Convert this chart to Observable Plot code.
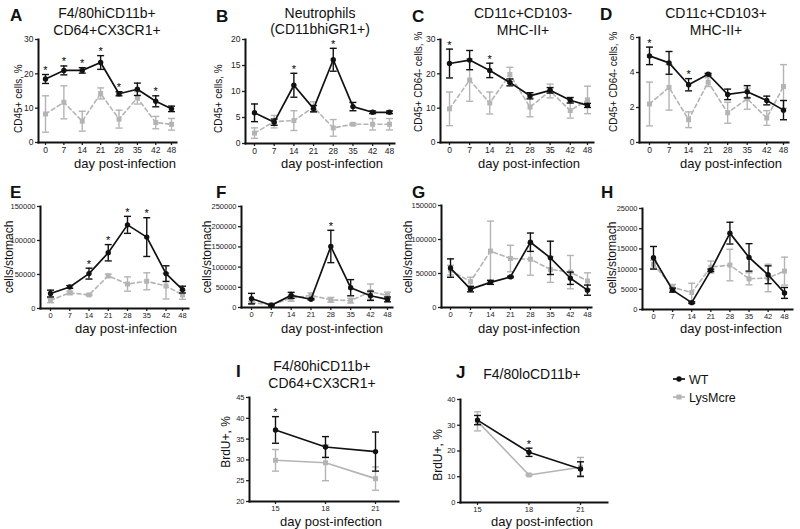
<!DOCTYPE html>
<html><head><meta charset="utf-8">
<script src="https://cdn.jsdelivr.net/npm/d3@7"></script>
<script src="https://cdn.jsdelivr.net/npm/@observablehq/plot@0.6"></script>
<style>
body{margin:0;background:#fff;}
#fig{position:relative;width:800px;height:529px;overflow:hidden;font-family:"Liberation Sans",Arial,sans-serif;}
#fig svg{position:absolute;}
</style></head><body><div id="fig"></div>
<script>
// ---------- DATA ----------
const series = ["WT", "LysMcre"];
const days = [0, 7, 14, 21, 28, 35, 42, 48];
const daysBrdU = [15, 18, 21];

// A: F4/80hiCD11b+ CD64+CX3CR1+ (CD45+ cells, %)
const aWT = [18.5, 21, 21, 23.3, 14.2, 15.5, 12, 9.8];
const aWTerr = [1.3, 1.3, 0.8, 2.0, 0.6, 1.8, 1.6, 0.8];
const aLys = [8.3, 11.7, 6.2, 14.3, 6.8, 13, 5.8, 5.3];
const aLysErr = [5.3, 4.8, 2.9, 1.6, 2.6, 1.8, 1.8, 1.7];
const aStars = [0, 7, 14, 21, 28, 42];

// B: Neutrophils
const bWT = [5.9, 4.1, 11.2, 6.7, 16.1, 7.1, 6, 6];
const bWTerr = [1.7, 0.6, 2.3, 0.6, 2.2, 0.8, 0.25, 0.25];
const bLys = [2, 4.2, 4.4, 7, 3, 3.7, 3.7, 3.7];
const bLysErr = [1, 1.2, 1.9, 1, 1.6, 0.2, 1.1, 1.1];
const bStars = [14, 28];

// C: CD11c+CD103- MHC-II+
const cWT = [23, 24, 21, 17.5, 13.6, 15.2, 12.3, 10.8];
const cWTerr = [4.2, 2.8, 2.1, 1, 0.9, 0.8, 0.8, 0.6];
const cLys = [9.8, 18.2, 11.5, 19.8, 10.3, 15, 9.3, 12.4];
const cLysErr = [4.9, 6.2, 3.2, 2.1, 2.8, 2, 2.2, 4];
const cStars = [0, 14];

// D: CD11c+CD103+ MHC-II+
const dWT = [4.95, 4.55, 3.3, 3.9, 2.75, 2.9, 2.4, 1.85];
const dWTerr = [0.5, 0.65, 0.35, 0.05, 0.3, 0.35, 0.25, 0.55];
const dLys = [2.2, 3.15, 1.3, 3.45, 1.7, 2.5, 1.4, 3.2];
const dLysErr = [1.25, 1.3, 0.45, 0.25, 0.6, 0.6, 0.42, 1.25];
const dStars = [0, 14];

// E-H: cells/stomach
const eWT = [22000, 31700, 51300, 82000, 123000, 105000, 51300, 27800];
const eWTerr = [5000, 2000, 8000, 12000, 12500, 28500, 11500, 5000];
const eLys = [12000, 23000, 20000, 48000, 36000, 40000, 33000, 20000];
const eLysErr = [3500, 2500, 1000, 2500, 10500, 12500, 19000, 6500];
const eStars = [14, 21, 28, 35];

const fWT = [22000, 5700, 30000, 20500, 151000, 49000, 29000, 20000];
const fWTerr = [13000, 1800, 7500, 1500, 40000, 20000, 11500, 6000];
const fLys = [12000, 7000, 23000, 30000, 19000, 17000, 39000, 30000];
const fLysErr = [3000, 2000, 7500, 6000, 6000, 6000, 19000, 8000];
const fStars = [28];

const gWT = [58000, 27000, 37000, 45000, 96000, 73000, 43000, 25500];
const gWTerr = [13500, 4000, 3000, 1000, 13500, 24500, 9000, 7500];
const gLys = [55000, 38000, 83000, 72000, 71000, 56000, 52000, 39000];
const gLysErr = [7000, 6500, 44000, 19500, 23500, 19000, 24500, 12000];
const gStars = [];

const hWT = [12800, 4800, 1700, 9700, 18900, 12900, 8600, 4100];
const hWTerr = [2800, 500, 200, 300, 2700, 3400, 2200, 1350];
const hLys = [11200, 5500, 4200, 10500, 11000, 7600, 7800, 9500];
const hLysErr = [1000, 700, 2300, 1500, 3900, 1500, 3400, 3450];
const hStars = [];

// I, J: BrdU+, %
const iWT = [37.2, 33.1, 32];
const iWTerr = [3.2, 2.5, 4.7];
const iLys = [29.9, 29.3, 25.5];
const iLysErr = [2.6, 4.3, 2.8];
const iStars = [15];

const jWT = [32, 19.5, 13];
const jWTerr = [1.8, 1.6, 2.8];
const jLys = [31.5, 10.7, 13.7];
const jLysErr = [3.7, 0.3, 3.8];
const jStars = [18];

// tick values
const tDays = days;
const tBrdU = daysBrdU;
const tA = [0, 10, 20, 30], tB = [0, 5, 10, 15, 20], tC = [0, 10, 20, 30], tD = [0, 2, 4, 6];
const tE = [0, 50000, 100000, 150000], tF = [0, 50000, 100000, 150000, 200000, 250000];
const tG = [0, 50000, 100000, 150000], tH = [0, 5000, 10000, 15000, 20000, 25000];
const tI = [20, 25, 30, 35, 40, 45], tJ = [0, 10, 20, 30, 40];

// ---------- LAYOUT / STYLE ----------
const BLACK = "#111", GRAY = "#b4b4b4";
const FONT = "'Liberation Sans', Arial, sans-serif";
const fig = document.getElementById("fig");

const cap = {draw(ctx) { ctx.moveTo(-3.5, 0); ctx.lineTo(3.5, 0); }};

const panels = [
  {x: days, wt: aWT, wte: aWTerr, ly: aLys, lye: aLysErr, st: aStars, xt: tDays, yt: tA, xdom: [0, 48], ydom: [0, 30], x0: 38, xEnd: 176, yTop: 39, yBot: 142, xa: 45, xb: 171, dash: true, fs: 8.5},
  {x: days, wt: bWT, wte: bWTerr, ly: bLys, lye: bLysErr, st: bStars, xt: tDays, yt: tB, xdom: [0, 48], ydom: [0, 20], x0: 245, xEnd: 394, yTop: 39, yBot: 143, xa: 254, xb: 389, dash: true, fs: 8.5},
  {x: days, wt: cWT, wte: cWTerr, ly: cLys, lye: cLysErr, st: cStars, xt: tDays, yt: tC, xdom: [0, 48], ydom: [0, 30], x0: 440, xEnd: 593, yTop: 39, yBot: 142, xa: 449, xb: 587, dash: true, fs: 8.5},
  {x: days, wt: dWT, wte: dWTerr, ly: dLys, lye: dLysErr, st: dStars, xt: tDays, yt: tD, xdom: [0, 48], ydom: [0, 6], x0: 639, xEnd: 788, yTop: 37, yBot: 142, xa: 649, xb: 783, dash: true, fs: 8.5},
  {x: days, wt: eWT, wte: eWTerr, ly: eLys, lye: eLysErr, st: eStars, xt: tDays, yt: tE, xdom: [0, 48], ydom: [0, 150000], x0: 40, xEnd: 188, yTop: 206, yBot: 308, xa: 50, xb: 182, dash: true, fs: 7.5},
  {x: days, wt: fWT, wte: fWTerr, ly: fLys, lye: fLysErr, st: fStars, xt: tDays, yt: tF, xdom: [0, 48], ydom: [0, 250000], x0: 241, xEnd: 392, yTop: 206, yBot: 307, xa: 251, xb: 387, dash: true, fs: 7.5},
  {x: days, wt: gWT, wte: gWTerr, ly: gLys, lye: gLysErr, st: gStars, xt: tDays, yt: tG, xdom: [0, 48], ydom: [0, 150000], x0: 441, xEnd: 591, yTop: 205, yBot: 307, xa: 450, xb: 587, dash: true, fs: 7.5},
  {x: days, wt: hWT, wte: hWTerr, ly: hLys, lye: hLysErr, st: hStars, xt: tDays, yt: tH, xdom: [0, 48], ydom: [0, 25000], x0: 642, xEnd: 792, yTop: 208, yBot: 309, xa: 653, xb: 784, dash: true, fs: 7.5},
  {x: daysBrdU, wt: iWT, wte: iWTerr, ly: iLys, lye: iLysErr, st: iStars, xt: tBrdU, yt: tI, xdom: [15, 21], ydom: [20, 45], x0: 249, xEnd: 398, yTop: 397, yBot: 501, xa: 275, xb: 375, dash: false, fs: 7.5},
  {x: daysBrdU, wt: jWT, wte: jWTerr, ly: jLys, lye: jLysErr, st: jStars, xt: tBrdU, yt: tJ, xdom: [15, 21], ydom: [0, 40], x0: 460, xEnd: 607, yTop: 399, yBot: 502, xa: 477, xb: 580, dash: false, fs: 7.5}
];

function rows(xs, m, e) {
  return xs.map((d, i) => ({x: d, y: m[i], lo: m[i] - e[i], hi: m[i] + e[i]}));
}

for (const p of panels) {
  const L = p.x0 - 38, T = p.yTop - 14;
  const W = p.xEnd + 4 - L, H = p.yBot + 20 - T;
  const wt = rows(p.x, p.wt, p.wte), ly = rows(p.x, p.ly, p.lye);
  const stars = p.st.map(d => wt.find(r => r.x === d));
  const errMarks = (data, color) => [
    Plot.ruleX(data, {x: "x", y1: "lo", y2: "hi", stroke: color, strokeWidth: 1.4}),
    Plot.dot(data, {x: "x", y: "lo", symbol: cap, r: 3, fill: "none", stroke: color, strokeWidth: 1.4}),
    Plot.dot(data, {x: "x", y: "hi", symbol: cap, r: 3, fill: "none", stroke: color, strokeWidth: 1.4})
  ];
  const chart = Plot.plot({
    width: W, height: H,
    marginLeft: p.x0 - L, marginRight: W - (p.xEnd - L),
    marginTop: p.yTop - T, marginBottom: H - (p.yBot - T),
    x: {domain: p.xdom, range: [p.xa - L, p.xb - L]},
    y: {domain: p.ydom},
    style: {fontFamily: FONT, fontSize: p.fs + "px", background: "transparent", color: "#222", overflow: "visible"},
    marks: [
      ...errMarks(ly, GRAY),
      Plot.line(ly, {x: "x", y: "y", stroke: GRAY, strokeWidth: 1.6, strokeDasharray: p.dash ? "4,3" : null}),
      Plot.dot(ly, {x: "x", y: "y", symbol: "square", r: 2.8, fill: GRAY}),
      ...errMarks(wt, BLACK),
      Plot.line(wt, {x: "x", y: "y", stroke: BLACK, strokeWidth: 1.7}),
      Plot.dot(wt, {x: "x", y: "y", r: 2.7, fill: BLACK}),
      Plot.text(stars, {x: "x", y: "hi", text: () => "*", dy: -4, fontSize: 11, fill: "#000"}),
      Plot.axisY({ticks: p.yt, tickSize: 3, tickPadding: 2, fontSize: p.fs, tickFormat: d3.format("d"), label: null, strokeWidth: 1.3}),
      Plot.axisX({ticks: p.xt, tickSize: 3, tickPadding: 1, fontSize: p.fs, tickFormat: d3.format("d"), label: null, strokeWidth: 1.3}),
      Plot.frame({anchor: "left", strokeWidth: 2, stroke: BLACK}),
      Plot.frame({anchor: "bottom", strokeWidth: 2, stroke: BLACK})
    ]
  });
  chart.style.left = L + "px";
  chart.style.top = T + "px";
  fig.appendChild(chart);
}

// ---------- TEXT OVERLAY ----------
const ov = d3.select(fig).append("svg").attr("width", 800).attr("height", 529)
  .style("left", "0px").style("top", "0px").style("pointer-events", "none")
  .attr("font-family", FONT).attr("fill", "#111");

const letters = [["A", 10, 21], ["B", 216, 22], ["C", 412, 22], ["D", 600, 20], ["E", 10, 198], ["F", 216, 198], ["G", 412, 198], ["H", 601, 198], ["I", 236, 377], ["J", 456, 378]];
for (const [t, x, y] of letters) ov.append("text").attr("x", x).attr("y", y).attr("font-size", 17).attr("font-weight", "bold").text(t);

const titles = [
  ["F4/80hiCD11b+", 107, 18], ["CD64+CX3CR1+", 107, 35],
  ["Neutrophils", 320, 18], ["(CD11bhiGR1+)", 320, 34],
  ["CD11c+CD103-", 523, 18], ["MHC-II+", 523, 35],
  ["CD11c+CD103+", 716, 18], ["MHC-II+", 716, 35],
  ["F4/80hiCD11b+", 322, 371], ["CD64+CX3CR1+", 322, 388],
  ["F4/80loCD11b+", 532, 379]
];
for (const [t, x, y] of titles) ov.append("text").attr("x", x).attr("y", y).attr("font-size", 14).attr("text-anchor", "middle").text(t);

const xlabels = [[176, 168], [383, 168], [580, 168], [782, 168], [177, 333], [383, 333], [580, 333], [782, 333], [382, 526], [593, 526]];
for (const [x, y] of xlabels) ov.append("text").attr("x", x).attr("y", y).attr("font-size", 13).attr("text-anchor", "end").text("day post-infection");

const ylabels = [
  ["CD45+ cells, %", 21.6, 133, 10, "start"], ["CD45+ cells, %", 221.6, 133, 10, "start"],
  ["CD45+ CD64- cells, %", 421.6, 132, 10, "start"], ["CD45+ CD64- cells, %", 616.6, 132, 10, "start"],
  ["cells/stomach", 12.5, 257, 12, "middle"], ["cells/stomach", 211, 257, 12, "middle"],
  ["cells/stomach", 412, 257, 12, "middle"], ["cells/stomach", 616, 258, 12, "middle"],
  ["BrdU+, %", 230, 442, 12, "middle"], ["BrdU+, %", 442, 455, 12, "middle"]
];
for (const [t, x, y, fs, anchor] of ylabels) ov.append("text").attr("transform", `translate(${x},${y}) rotate(-90)`).attr("font-size", fs).attr("text-anchor", anchor).text(t);

// legend
const leg = [[series[0], BLACK, 379, "circle"], [series[1], GRAY, 397, "square"]];
for (const [name, color, y, sym] of leg) {
  ov.append("line").attr("x1", 673).attr("x2", 685).attr("y1", y).attr("y2", y).attr("stroke", color).attr("stroke-width", 1.7);
  if (sym === "circle") ov.append("circle").attr("cx", 679).attr("cy", y).attr("r", 2.7).attr("fill", color);
  else ov.append("rect").attr("x", 676.5).attr("y", y - 2.5).attr("width", 5).attr("height", 5).attr("fill", color);
  ov.append("text").attr("x", 689).attr("y", y + 4.5).attr("font-size", 12.5).text(name);
}
</script></body></html>
